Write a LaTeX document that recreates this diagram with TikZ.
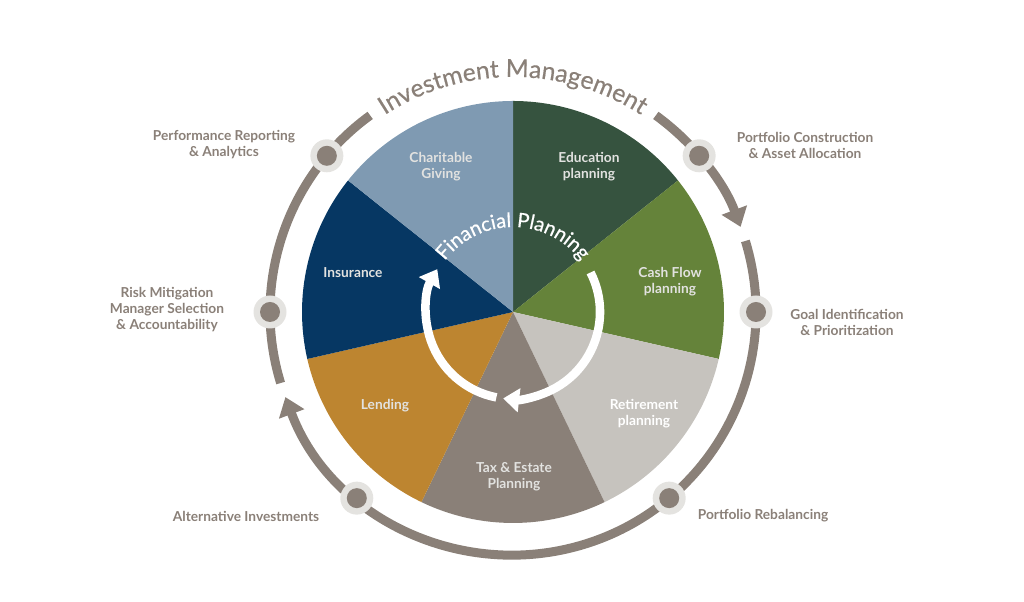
\documentclass[tikz,border=0pt]{standalone}
\usepackage{fontspec}
\setmainfont{Lato}
\newfontfamily\arcfont[FakeBold=0.5]{Lato}
\usetikzlibrary{arrows.meta,decorations.text,calc}
\definecolor{ink}{HTML}{8A8078}
\definecolor{dotbg}{HTML}{E4E3E0}
\definecolor{cedu}{HTML}{36533F}
\definecolor{ccash}{HTML}{65833A}
\definecolor{cret}{HTML}{C6C3BE}
\definecolor{ctax}{HTML}{8A8078}
\definecolor{clend}{HTML}{BD8530}
\definecolor{cins}{HTML}{063763}
\definecolor{cchar}{HTML}{7F9AB2}
\definecolor{pietext}{HTML}{E2E2E0}
\tikzset{
  pielab/.style={text=pietext, align=center, font=\fontsize{10.3}{12}\selectfont\bfseries, inner sep=0pt},
  outlab/.style={text=ink, align=center, font=\fontsize{10.3}{12}\selectfont\bfseries, inner sep=0pt},
  ring/.style={draw=ink, line width=6.75pt},
  ringarrow/.style={ring, -{Triangle[width=19.5pt,length=13.5pt]}},
  whitearc/.style={draw=white, line width=6.4pt, -{Triangle[width=17.5pt,length=12pt]}},
  dotouter/.style={circle, fill=dotbg, minimum size=24.75pt, inner sep=0pt},
  dotinner/.style={circle, fill=ink, minimum size=15pt, inner sep=0pt}
}
\begin{document}
\begin{tikzpicture}[x=0.75pt,y=0.75pt]
\useasboundingbox (0,0) rectangle (1024,602);
\coordinate (C) at (513,290);
% pie sectors
\fill[cedu]  (C) -- ++(90:211)      arc[start angle=90,      end angle=38.571,  radius=211] -- cycle;
\fill[ccash] (C) -- ++(38.571:211)  arc[start angle=38.571,  end angle=-12.857, radius=211] -- cycle;
\fill[cret]  (C) -- ++(-12.857:211) arc[start angle=-12.857, end angle=-64.286, radius=211] -- cycle;
\fill[ctax]  (C) -- ++(-64.286:211) arc[start angle=-64.286, end angle=-115.714,radius=211] -- cycle;
\fill[clend] (C) -- ++(-115.714:211)arc[start angle=-115.714,end angle=-167.143,radius=211] -- cycle;
\fill[cins]  (C) -- ++(-167.143:211)arc[start angle=-167.143,end angle=-218.571,radius=211] -- cycle;
\fill[cchar] (C) -- ++(141.429:211) arc[start angle=141.429, end angle=90,      radius=211] -- cycle;
% pie labels
\node[pielab] (edu)  at (589,435) {Education\\planning};
\node[pielab] (cash) at (670,320) {Cash Flow\\planning};
\node[pielab,text=white] (ret) at (644,188) {Retirement\\planning};
\node[pielab] (tax)  at (514,125) {Tax \& Estate\\Planning};
\node[pielab] (lend) at (385,196) {Lending};
\node[pielab] (ins)  at (353,329) {Insurance};
\node[pielab] (char) at (441,435) {Charitable\\Giving};
% inner white cycle
\draw[whitearc] (C) ++(27:87) arc[start angle=27, end angle=-96.5, radius=87];
\draw[whitearc] (C) ++(-101:87) arc[start angle=-101, end angle=-209.5, radius=87];
\path[decorate, decoration={text along path, text align=center, text color=white,
  text={|\arcfont\fontsize{15}{16}\selectfont|Financial Planning}}]
  (C) ++(170:85) arc[start angle=170, end angle=10, radius=85];
% outer ring
\draw[ringarrow] (C) ++(54:243) arc[start angle=54, end angle=20.5, radius=243];
\draw[ringarrow] (C) ++(17:243) arc[start angle=17, end angle=-159.5, radius=243];
\draw[ring] (C) ++(-163:243) arc[start angle=-163, end angle=-234, radius=243];
\path[decorate, decoration={text along path, text align=center, text color=ink,
  text={|\arcfont\fontsize{18.5}{20}\selectfont|Investment Management}}]
  (C) ++(140:235) arc[start angle=140, end angle=40, radius=235];
% dots
\foreach \a/\n in {140/d1, 40/d2, 0/d3, -50/d4, -130/d5, 180/d6}{
  \node[dotouter] (\n o) at ($(C)+(\a:243)$) {};
  \node[dotinner] (\n) at (\n o) {};
}
% outer labels
\node[outlab] (perf) at (224,457) {Performance Reporting\\\& Analytics};
\node[outlab] (pcon) at (805,457) {Portfolio Construction\\\& Asset Allocation};
\node[outlab] (goal) at (847,280) {Goal Identification\\\& Prioritization};
\node[outlab] (risk) at (167,292) {Risk Mitigation\\Manager Selection\\\& Accountability};
\node[outlab] (alt)  at (246,86)  {Alternative Investments};
\node[outlab] (preb) at (763,86)  {Portfolio Rebalancing};
\end{tikzpicture}
\end{document}
